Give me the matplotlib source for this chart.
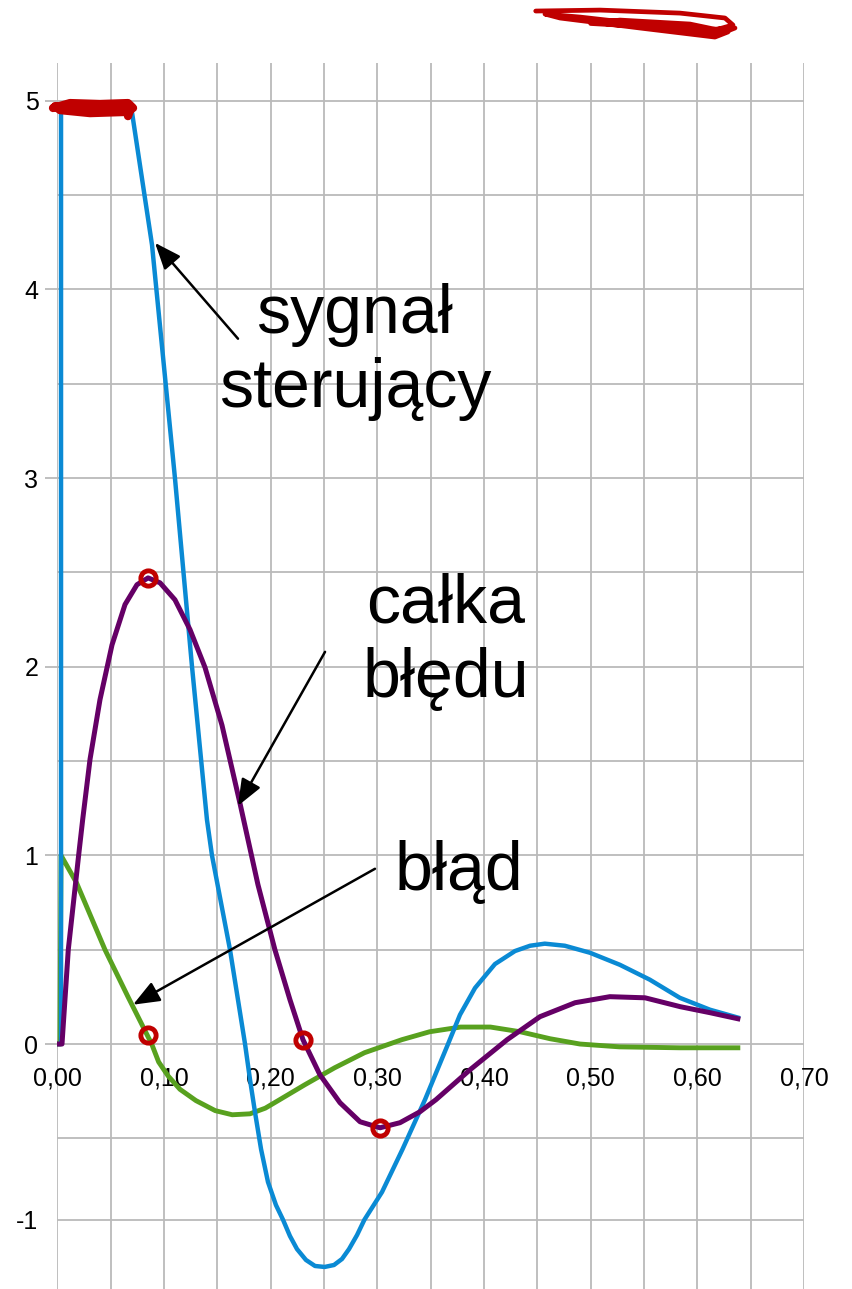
import matplotlib
matplotlib.use('Agg')
import matplotlib.pyplot as plt
from matplotlib.ticker import MultipleLocator, FuncFormatter
import numpy as np

plt.rcParams['font.family'] = ['Liberation Sans', 'DejaVu Sans']
plt.rcParams['axes.unicode_minus'] = False

# sygnał sterujący (control signal)
t_ster = [0.0, 0.0035, 0.0035, 0.0692, 0.0888, 0.1103, 0.1263, 0.1403, 0.145,
          0.1619, 0.176, 0.1807, 0.1853, 0.191, 0.1975, 0.205, 0.2116, 0.2181,
          0.2247, 0.2331, 0.2416, 0.2506, 0.2594, 0.2669, 0.2735, 0.281, 0.2879,
          0.3044, 0.3237, 0.3447, 0.3663, 0.3775, 0.3916, 0.4103, 0.4291, 0.4432,
          0.457, 0.4758, 0.4993, 0.5274, 0.5555, 0.5836, 0.6118, 0.6381]
u_ster = [0.0, 0.0, 4.97, 4.97, 4.236, 3.0, 2.0, 1.189, 1.0,
          0.5, 0.0, -0.19, -0.36, -0.566, -0.768, -0.91, -1.0, -1.1,
          -1.18, -1.247, -1.284, -1.29, -1.278, -1.241, -1.18, -1.094, -1.0,
          -0.83, -0.566, -0.295, 0.0, 0.155, 0.297, 0.424, 0.493, 0.521,
          0.532, 0.521, 0.484, 0.42, 0.341, 0.245, 0.182, 0.14]

# błąd (error)
t_blad = [0.0, 0.0025, 0.0035, 0.018, 0.0447, 0.0663, 0.0885, 0.095, 0.104,
          0.115, 0.13, 0.148, 0.164, 0.1806, 0.195, 0.207, 0.232, 0.26, 0.288,
          0.323, 0.349, 0.378, 0.406, 0.434, 0.462, 0.49, 0.527, 0.584, 0.638]
e_blad = [0.0, 0.0, 1.0, 0.855, 0.5, 0.25, 0.0, -0.095, -0.17,
          -0.24, -0.3, -0.353, -0.375, -0.37, -0.34, -0.3, -0.216, -0.126, -0.046,
          0.023, 0.065, 0.09, 0.09, 0.065, 0.028, 0.0, -0.015, -0.02, -0.02]

# całka błędu (integral of error)
t_calka = [0.0, 0.0044, 0.0103, 0.02, 0.0238, 0.0307, 0.04, 0.0513, 0.0635,
           0.0747, 0.0851, 0.0963, 0.1103, 0.1244, 0.1385, 0.1544, 0.1715, 0.1881,
           0.204, 0.2181, 0.2303, 0.2462, 0.265, 0.2838, 0.3025, 0.3213, 0.34,
           0.355, 0.387, 0.4217, 0.4525, 0.4854, 0.518, 0.551, 0.584, 0.612, 0.638]
i_calka = [0.0, 0.0, 0.5, 1.0, 1.19, 1.51, 1.825, 2.116, 2.33,
           2.435, 2.471, 2.445, 2.355, 2.197, 1.996, 1.69, 1.27, 0.845,
           0.5, 0.235, 0.023, -0.163, -0.311, -0.412, -0.444, -0.417, -0.359,
           -0.295, -0.136, 0.023, 0.145, 0.219, 0.251, 0.245, 0.198, 0.166, 0.134]

# red pen marks added on top of the plot
kolka_x = [0.0851, 0.0851, 0.2303, 0.3025]
kolka_y = [2.47, 0.049, 0.023, -0.444]
bazgrol_x = [-0.004, 0.0119, 0.04, 0.0663, 0.071, 0.0635, 0.0307, 0.0025, -0.002,
             0.0213, 0.0682, 0.0663]
bazgrol_y = [4.962, 4.988, 4.983, 4.988, 4.962, 4.941, 4.935, 4.951, 4.972,
             4.962, 4.951, 4.919]
gora_x = [0.4485, 0.5088, 0.5838, 0.6259, 0.6334, 0.6165, 0.5556, 0.49, 0.4572,
          0.4713, 0.5463, 0.6165, 0.6287, 0.5931, 0.5275, 0.5, 0.5625, 0.6025,
          0.6353, 0.6215, 0.575]
gora_y = [5.476, 5.481, 5.465, 5.439, 5.402, 5.375, 5.402, 5.444, 5.46,
          5.439, 5.386, 5.338, 5.365, 5.407, 5.428, 5.41, 5.39, 5.375,
          5.386, 5.355, 5.372]

SQUEEZE = 0.863  # axis below -0.5 is drawn tighter


def fwd(y):
    y = np.asarray(y, dtype=float)
    return np.where(y >= -0.5, y, -0.5 + (y + 0.5) * SQUEEZE)


def inv(t):
    t = np.asarray(t, dtype=float)
    return np.where(t >= -0.5, t, -0.5 + (t + 0.5) / SQUEEZE)


GRID = '#bababa'
BLUE = '#0a8ad4'
PURPLE = '#650066'
GREEN = '#58a11f'
RED = '#c00000'

fig = plt.figure(figsize=(8.52, 12.89), dpi=100)
ax = fig.add_axes([0.06725, 0.0, 0.8764, 0.95105])
ax.set_yscale('function', functions=(fwd, inv))
ax.set_xlim(0, 0.7)
ax.set_ylim(-1.4254, 5.2)

ax.xaxis.set_major_locator(MultipleLocator(0.1))
ax.xaxis.set_minor_locator(MultipleLocator(0.05))
ax.yaxis.set_major_locator(MultipleLocator(1))
ax.yaxis.set_minor_locator(MultipleLocator(0.5))
ax.xaxis.set_major_formatter(FuncFormatter(lambda v, p: f'{v:.2f}'.replace('.', ',')))
ax.yaxis.set_major_formatter(FuncFormatter(lambda v, p: f'{v:.0f}'))

for s in ax.spines.values():
    s.set_visible(False)
ax.spines['bottom'].set_position(('data', 0))

ax.grid(True, which='both', color=GRID, lw=1.3)
ax.set_axisbelow(True)
ax.tick_params(axis='x', which='both', length=0, pad=16, labelsize=18)
ax.tick_params(axis='y', which='major', length=8.6, width=1.3, color=GRID,
               pad=5, labelsize=18)
ax.tick_params(axis='y', which='minor', length=0)
fig.canvas.draw()
for tk in ax.yaxis.get_major_ticks():
    if np.isclose(tk.get_loc(), -1):
        tk.tick1line.set_visible(False)

ax.plot(t_blad, e_blad, color=GREEN, lw=3.5, solid_joinstyle='round', zorder=3)
ax.plot(t_ster, u_ster, color=BLUE, lw=3.2, solid_joinstyle='round', zorder=3)
ax.plot(t_calka, i_calka, color=PURPLE, lw=3.6, solid_joinstyle='round', zorder=3)

# labels with arrows (y is the baseline of the last line)
font = dict(fontsize=49, color='black', ha='center', va='baseline', zorder=5)
ax.text(0.279, 3.377, 'sygnał\nsterujący', **font)
ax.text(0.3644, 1.842, 'całka\nbłędu', **font)
ax.text(0.3766, 0.818, 'błąd', **font)
arrow = dict(arrowstyle='-|>,head_length=0.45,head_width=0.18', color='black',
             lw=1.8, mutation_scale=36, shrinkA=0, shrinkB=0)
ax.annotate('', xy=(0.0916, 4.247), xytext=(0.1694, 3.739), arrowprops=arrow, zorder=5)
ax.annotate('', xy=(0.1694, 1.263), xytext=(0.251, 2.079), arrowprops=arrow, zorder=5)
ax.annotate('', xy=(0.071, 0.2085), xytext=(0.2978, 0.929), arrowprops=arrow, zorder=5)

# red marks
ax.plot(kolka_x, kolka_y, 'o', ms=11, mfc='none', mec=RED, mew=3.5, zorder=6)
ax.plot(bazgrol_x, bazgrol_y, color=RED, lw=6, solid_capstyle='round',
        solid_joinstyle='round', clip_on=False, zorder=6)
ax.plot(gora_x, gora_y, color=RED, lw=3.4, solid_capstyle='round',
        solid_joinstyle='round', clip_on=False, zorder=6)

fig.savefig('out.png', dpi=100)
